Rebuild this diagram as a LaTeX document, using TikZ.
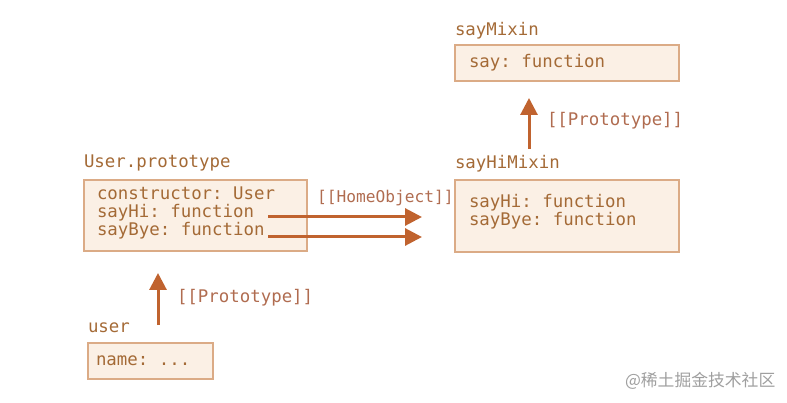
\documentclass[tikz,border=0pt]{standalone}
\usepackage{fontspec}
\setmonofont{DejaVu Sans Mono}
\newfontfamily\cjk{Noto Sans CJK SC}
\usetikzlibrary{arrows.meta}

\definecolor{boxfill}{HTML}{FBF0E5}
\definecolor{boxline}{HTML}{DBAB86}
\definecolor{codetext}{HTML}{A46A36}
\definecolor{linktext}{HTML}{B06C50}
\definecolor{arrowcol}{HTML}{C0632F}

\begin{document}
\begin{tikzpicture}[x=1pt,y=-1pt, every node/.style={inner sep=0pt, outer sep=0pt, font=\ttfamily\fontsize{17.4}{18}\selectfont}]

\tikzset{objbox/.style={draw=boxline, fill=boxfill, line width=2.8pt, anchor=north west},
%field text and box titles sit on their baseline
field/.style={anchor=base west, text=codetext},
link/.style={anchor=base west, text=linktext},
protoarrow/.style={arrowcol, line width=3pt, arrows={-Triangle[length=17pt,width=17pt]}}}

\newcommand{\lineskipcode}{18}
\newcommand{\arrowstart}{268}

\useasboundingbox (0,0) rectangle (787,403);

% sayMixin
\node [field] (saymixinname) at (455,36) {sayMixin};
\node [objbox, minimum width=224, minimum height=36] (saymixin) at (455,45) {};
\node [field] (sayfield) at (469,68) {say: function};

% sayHiMixin
\node [field] (sayhimixinname) at (455,169) {sayHiMixin};
\node [objbox, minimum width=224, minimum height=72] (sayhimixin) at (455,180) {};
\node [field] (mixhi) at (469,208) {sayHi: function};
\node [field] (mixbye) at (469,208+\lineskipcode) {sayBye: function};

\coordinate (mixinup) at (529,149);
\coordinate (mixintop) at (529,98);
\draw [protoarrow] (mixinup) -- (mixintop);
\node [link] (mixinproto) at (547,126) {[[Prototype]]};

% User.prototype
\node [field] (protoname) at (84,168) {User.prototype};
\node [objbox, minimum width=223, minimum height=71] (userproto) at (84,180) {};
\node [field] (ctorfield) at (97,200) {constructor: User};
\node [field] (hifield) at (97,200+\lineskipcode) {sayHi: function};
\node [field] (byefield) at (97,200+2*\lineskipcode) {sayBye: function};

\node [link, font=\ttfamily\fontsize{16.2}{18}\selectfont] (homeobject) at (317,203) {[[HomeObject]]};
\coordinate (hiend) at (422,217);
\coordinate (byeend) at (422,237);
\draw [protoarrow] (\arrowstart,217) coordinate (histart) -- (hiend);
\draw [protoarrow] (\arrowstart,237) coordinate (byestart) -- (byeend);

% user
\node [field] (username) at (88,333) {user};
\node [objbox, minimum width=125, minimum height=36] (user) at (88,343) {};
\node [field] (namefield) at (96,365) {name: ...};

\coordinate (userup) at (158,325);
\coordinate (usertop) at (158,273);
\draw [protoarrow] (userup) -- (usertop);
\node [link] (userproto) at (177,303) {[[Prototype]]};

\node [anchor=west, text=gray!75, font=\cjk\fontsize{16.8}{17}\selectfont] (watermark) at (625,381) {@稀土掘金技术社区};

\end{tikzpicture}
\end{document}
